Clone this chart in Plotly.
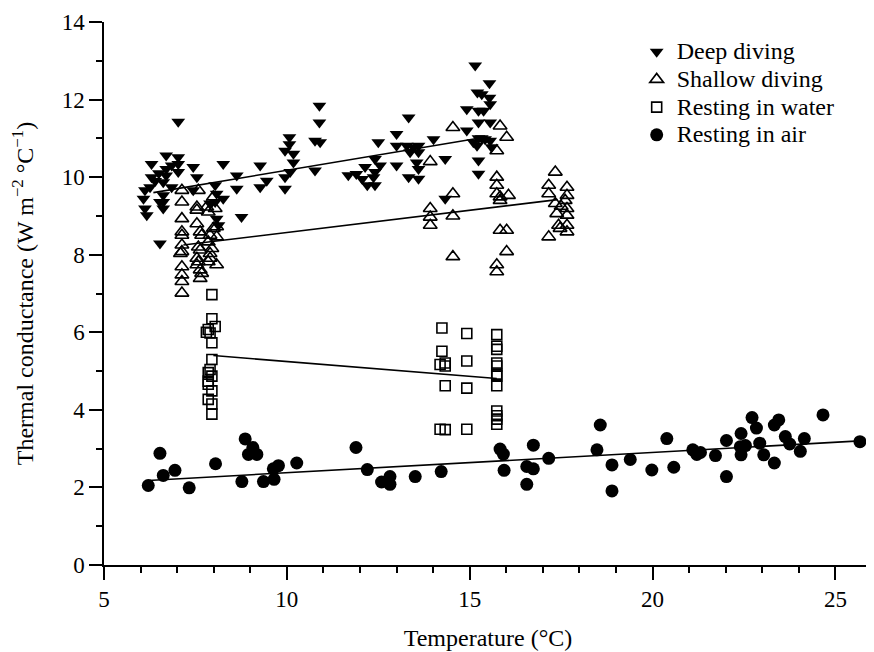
import plotly.graph_objects as go

# ---------------- data ----------------
deep_x = [7.03, 10.89, 10.89, 10.91, 10.07, 10.07, 9.95, 10.18, 10.18, 10.77, 10.77, 9.95, 10.09, 9.95,
          9.27, 9.45, 9.27, 8.63, 8.63, 8.26, 8.76, 7.44, 7.54, 7.44, 7.03, 7.03, 7.03, 6.70, 6.70, 6.70,
          6.62, 6.62, 6.62, 6.30, 6.30, 6.26, 6.12, 6.08, 6.12, 6.17, 6.53, 8.04, 8.08, 8.26, 8.04, 8.08,
          8.13, 7.90, 6.85, 6.62, 6.53, 6.40, 6.50, 6.85, 11.68, 11.90, 12.06, 12.20, 12.14,
          15.15, 15.54, 15.21, 15.33, 15.54, 15.56, 14.92, 15.24, 15.38, 15.24, 15.56, 14.92, 15.24, 15.33,
          15.42, 15.56, 15.10, 15.60, 15.20, 15.24, 15.24, 13.33, 13.00, 12.50, 14.01, 13.00, 13.28, 13.46,
          13.60, 13.37, 13.60, 13.00, 13.55, 13.60, 14.33, 12.41, 12.55, 12.41, 12.37, 12.41, 13.33, 13.60,
          14.33]
deep_y = [11.43, 11.84, 11.41, 10.90, 11.03, 10.85, 10.68, 10.60, 10.38, 10.94, 10.17, 10.00, 10.13, 9.70,
          10.30, 9.91, 9.74, 10.04, 9.70, 10.34, 8.97, 10.26, 10.00, 9.66, 10.51, 10.34, 10.13, 10.56, 10.21, 10.04,
          9.87, 9.36, 9.19, 10.34, 10.00, 9.74, 9.66, 9.44, 9.19, 9.02, 8.29, 9.79, 9.57, 9.44, 9.36, 8.93,
          8.76, 9.32, 9.74, 9.53, 9.36, 9.90, 10.10, 10.30, 10.05, 10.08, 9.95, 9.79, 10.26,
          12.88, 12.42, 12.18, 12.14, 12.05, 11.88, 11.75, 11.71, 11.71, 11.41, 11.41, 11.20, 11.00, 11.00,
          10.98, 10.94, 10.90, 10.77, 10.81, 10.43, 10.09, 11.54, 11.11, 10.90, 10.98, 10.81, 10.81, 10.77,
          10.81, 10.64, 10.64, 10.30, 10.38, 10.21, 10.47, 10.47, 10.30, 10.13, 10.00, 9.79, 10.00, 9.96,
          9.44]

shallow_x = [7.13, 7.13, 7.13, 7.13, 7.13, 7.13, 7.13, 7.09, 7.13, 7.13, 7.13, 7.13,
             7.58, 7.54, 7.54, 7.54, 7.63, 7.67, 7.58, 7.63, 7.54, 7.58, 7.54, 7.63, 7.67, 7.63,
             7.81, 7.85, 7.90, 7.85, 7.95, 7.99, 8.08, 8.08, 7.90, 7.85, 8.08, 7.90, 7.99, 8.04,
             14.54, 15.83, 16.01, 15.74, 13.92, 15.74, 15.74, 15.74, 15.83, 16.06, 15.83, 14.54, 14.54,
             13.92, 13.92, 13.92, 15.83, 16.01, 16.01, 14.54, 15.74, 15.74,
             17.34, 17.16, 17.66, 17.16, 17.66, 17.34, 17.61, 17.66, 17.38, 17.66, 17.43, 17.66, 17.47,
             17.66, 17.16, 17.50]
shallow_y = [9.66, 9.36, 8.93, 8.59, 8.50, 8.25, 8.08, 8.03, 7.69, 7.48, 7.31, 7.01,
             9.66, 9.23, 9.15, 8.80, 8.59, 8.50, 8.20, 8.12, 7.91, 7.82, 7.74, 7.61, 7.52, 7.39,
             9.23, 9.10, 8.50, 8.33, 8.16, 8.68, 8.72, 8.46, 8.03, 7.82, 7.74, 7.91, 9.49, 9.19,
             11.28, 11.32, 11.03, 10.68, 10.40, 10.00, 9.79, 9.57, 9.49, 9.53, 9.40, 9.57, 9.00,
             9.19, 8.97, 8.76, 8.63, 8.63, 8.08, 7.95, 7.74, 7.56,
             10.13, 9.79, 9.74, 9.57, 9.53, 9.32, 9.40, 9.19, 9.06, 9.02, 8.76, 8.76, 8.68,
             8.59, 8.46, 9.25]

water_x = [7.95, 7.95, 8.04, 7.85, 7.90, 7.80, 7.95, 7.95, 7.90, 7.85, 7.95, 7.85, 7.85, 7.95, 7.85, 7.95, 7.95,
           14.24, 14.92, 15.74, 15.74, 15.74, 14.24, 14.19, 14.33, 14.33, 14.92, 15.74, 15.74, 15.74, 15.74,
           15.74, 14.33, 14.92, 15.74, 15.74, 15.74, 15.74, 14.19, 14.33, 14.92]
water_y = [6.97, 6.35, 6.15, 6.07, 5.98, 6.00, 5.73, 5.30, 5.04, 4.96, 4.87, 4.74, 4.66, 4.49, 4.27, 4.15, 3.89,
           6.11, 5.97, 5.94, 5.64, 5.56, 5.51, 5.17, 5.21, 5.13, 5.26, 5.21, 5.13, 4.92, 4.87,
           4.62, 4.62, 4.56, 3.97, 3.85, 3.76, 3.63, 3.50, 3.49, 3.50]

air_x = [6.21, 6.53, 6.62, 6.94, 7.33, 8.05, 8.86, 9.07, 8.95, 9.18, 8.77, 9.36, 9.65, 9.63, 9.77, 10.27,
         11.89, 12.20, 12.59, 12.82, 12.82, 13.51, 14.22, 15.83, 15.92, 15.94,
         16.56, 16.56, 16.74, 16.74, 17.16, 18.57, 18.48, 18.89, 18.89, 19.39, 19.98, 20.39, 20.58,
         21.10, 21.21, 21.31, 21.72, 22.02, 22.02, 22.42, 22.40, 22.54, 22.42, 22.72, 22.84, 22.93, 23.04,
         23.33, 23.45, 23.33, 23.63, 23.75, 24.04, 24.15, 24.66, 25.67]
air_y = [2.05, 2.88, 2.31, 2.44, 1.99, 2.61, 3.25, 3.03, 2.85, 2.85, 2.15, 2.15, 2.21, 2.48, 2.56, 2.63,
         3.03, 2.46, 2.14, 2.28, 2.08, 2.28, 2.41, 2.99, 2.86, 2.44,
         2.08, 2.54, 2.48, 3.09, 2.75, 3.61, 2.97, 2.58, 1.91, 2.72, 2.45, 3.26, 2.52,
         2.97, 2.85, 2.90, 2.82, 3.21, 2.28, 3.39, 3.05, 3.08, 2.84, 3.80, 3.53, 3.14, 2.84,
         3.61, 3.74, 2.63, 3.31, 3.12, 2.93, 3.26, 3.87, 3.18]

# regression line end points
deep_fit_x = [6.35, 15.40]
deep_fit_y = [9.60, 11.03]
shallow_fit_x = [7.17, 17.40]
shallow_fit_y = [8.25, 9.42]
water_fit_x = [7.99, 15.74]
water_fit_y = [5.40, 4.81]
air_fit_x = [6.21, 25.67]
air_fit_y = [2.18, 3.20]

series_names = ["Deep diving", "Shallow diving", "Resting in water", "Resting in air"]

x_ticks = [5, 10, 15, 20, 25]
y_ticks = [0, 2, 4, 6, 8, 10, 12, 14]

x_title = "Temperature (°C)"
y_title = "Thermal conductance (W m<sup>−2</sup> °C<sup>−1</sup>)"

# ---------------- figure ----------------
FONT = "Liberation Serif"
fig = go.Figure()

for fx, fy in [(deep_fit_x, deep_fit_y), (shallow_fit_x, shallow_fit_y),
               (water_fit_x, water_fit_y), (air_fit_x, air_fit_y)]:
    fig.add_trace(go.Scatter(x=fx, y=fy, mode="lines", showlegend=False, hoverinfo="skip",
                             line=dict(color="black", width=1.6)))


def legend_name(s):
    return '<span style="font-size:24px">' + s + '</span>'


fig.add_trace(go.Scatter(x=deep_x, y=deep_y, mode="markers", name=legend_name(series_names[0]),
                         marker=dict(symbol="triangle-down", size=12, color="black",
                                     line=dict(width=0))))
fig.add_trace(go.Scatter(x=shallow_x, y=shallow_y, mode="markers", name=legend_name(series_names[1]),
                         marker=dict(symbol="triangle-up-open", size=12, color="black",
                                     line=dict(width=1.6, color="black"))))
fig.add_trace(go.Scatter(x=water_x, y=water_y, mode="markers", name=legend_name(series_names[2]),
                         marker=dict(symbol="square-open", size=10, color="black",
                                     line=dict(width=1.6, color="black"))))
fig.add_trace(go.Scatter(x=air_x, y=air_y, mode="markers", name=legend_name(series_names[3]),
                         marker=dict(symbol="circle", size=13, color="black",
                                     line=dict(width=0))))

axis_common = dict(showline=True, linecolor="black", linewidth=1.5, ticks="outside",
                   ticklen=13, tickwidth=1.5, tickcolor="black", showgrid=False, zeroline=False,
                   tickfont=dict(family=FONT, size=23, color="black"),
                   ticklabeloverflow="allow", mirror=False)

fig.update_xaxes(range=[5, 26], tickvals=x_ticks,
                 minor=dict(ticks="outside", ticklen=6, tickwidth=1.5, tickcolor="black", dtick=1, tick0=5),
                 title=dict(text=x_title, font=dict(family=FONT, size=24, color="black"), standoff=18),
                 **axis_common)
fig.update_yaxes(range=[0, 14], tickvals=y_ticks,
                 minor=dict(ticks="outside", ticklen=6, tickwidth=1.5, tickcolor="black", dtick=1, tick0=0),
                 title=dict(text=y_title, font=dict(family=FONT, size=24, color="black"), standoff=29),
                 **axis_common)

# the page body adds an 8 px margin, so the figure is 16 px smaller than the window
fig.update_layout(
    width=866, height=644,
    margin=dict(l=96, r=2, t=11, b=87),
    paper_bgcolor="white", plot_bgcolor="white",
    font=dict(family=FONT, size=22, color="black"),
    legend=dict(x=0.6936, y=0.980, xanchor="left", yanchor="top",
                bgcolor="rgba(0,0,0,0)", font=dict(family=FONT, size=19, color="black"),
                itemsizing="trace", tracegroupgap=0),
)

fig.write_html("out.html")
